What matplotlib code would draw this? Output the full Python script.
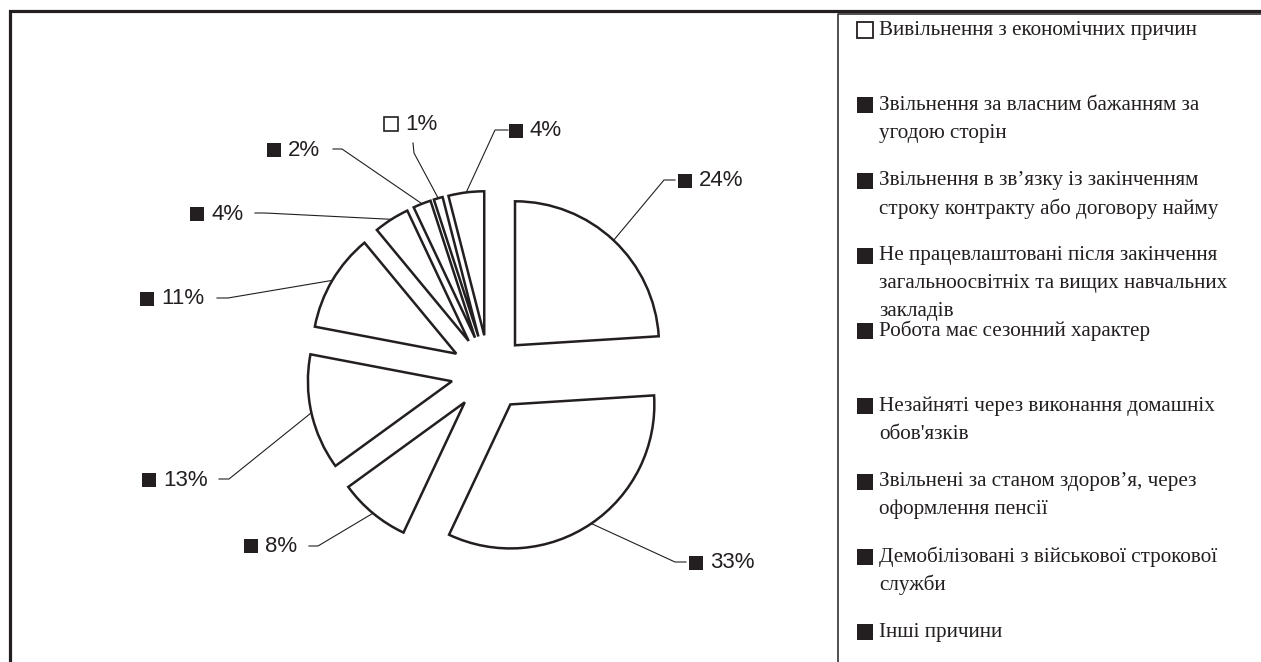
import matplotlib
matplotlib.use("Agg")
import matplotlib.pyplot as plt
import numpy as np

# data (legend order, pie goes clockwise in this order)
categories = [
    "Вивільнення з економічних причин",
    "Звільнення за власним бажанням за\nугодою сторін",
    "Звільнення в зв’язку із закінченням\nстроку контракту або договору найму",
    "Не працевлаштовані після закінчення\nзагальноосвітніх та вищих навчальних\nзакладів",
    "Робота має сезонний характер",
    "Незайняті через виконання домашніх\nобов'язків",
    "Звільнені за станом здоров’я, через\nоформлення пенсії",
    "Демобілізовані з військової строкової\nслужби",
    "Інші причини",
]
shares = [1, 4, 24, 33, 8, 13, 11, 4, 2]
marker_fill = ["white", "#231f20", "#231f20", "#231f20", "#231f20",
               "#231f20", "#231f20", "#231f20", "#231f20"]

W, H = 1261, 662
INK = "#231f20"

def Y(y):
    # image row -> axes y
    return H - y

# label layout in image pixels: square centre, elbow of leader, end of leader
lab_sq = [(391, 124), (516, 131), (685, 181), (696, 563), (251, 546),
          (149, 480), (147, 299), (197, 214), (274, 150)]
lab_elbow = [(414, 153), (495, 130), (664, 180), (675, 562), (318, 546),
             (229, 479), (228, 298), (265, 213), (342, 149)]
lab_end = [(413, 143), (508, 130), (675, 180), (686, 562), (309, 546),
           (219, 479), (217, 298), (255, 213), (333, 149)]

fig = plt.figure(figsize=(W / 100, H / 100), dpi=100)
ax = fig.add_axes([0, 0, 1, 1])

wedges, _ = ax.pie(shares, center=(489, Y(373)), radius=144,
                   explode=[38] * len(shares), startangle=108,
                   counterclock=False, normalize=True,
                   wedgeprops=dict(facecolor="white", edgecolor=INK, linewidth=1.8))
ax.set_xlim(0, W)
ax.set_ylim(0, H)
ax.set_aspect("auto")
ax.axis("off")

for i, w in enumerate(wedges):
    mid = np.deg2rad((w.theta1 + w.theta2) / 2)
    px = w.center[0] + w.r * np.cos(mid)
    py = w.center[1] + w.r * np.sin(mid)
    ex, ey = lab_elbow[i]
    qx, qy = lab_end[i]
    ax.plot([px, ex, qx], [py, Y(ey), Y(qy)], color=INK, lw=0.8)
    sx, sy = lab_sq[i]
    ax.plot([sx], [Y(sy)], marker="s", ms=10.5, mfc=marker_fill[i],
            mec=INK, mew=1.2 if marker_fill[i] == "white" else 0)
    ax.text(sx + 14, Y(sy), f"{shares[i]}%", fontsize=16,
            family="Liberation Sans", color=INK, ha="left", va="center")

# outer frame and legend box
ax.plot([10, 10, W], [0, Y(11), Y(11)], color=INK, lw=2.3, solid_joinstyle="miter")
ax.plot([838, 838, W], [0, Y(14), Y(14)], color=INK, lw=1.1)

# legend
for i, cat in enumerate(categories):
    y0 = 30 + 75.25 * i
    ax.plot([865], [Y(y0)], marker="s", ms=11, mfc=marker_fill[i],
            mec=INK, mew=1.3 if marker_fill[i] == "white" else 0)
    for k, line in enumerate(cat.split("\n")):
        ax.text(879, Y(y0 + 28 * k), line, fontsize=15.2,
                family="Liberation Serif", color=INK, ha="left", va="center")

fig.savefig("out.png", dpi=100)
